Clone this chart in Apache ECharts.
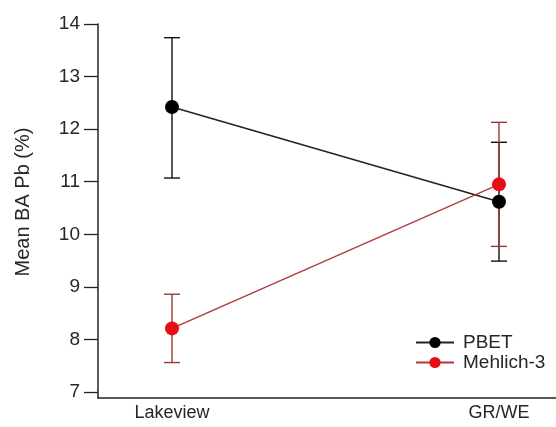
<!DOCTYPE html>
<html>
<head>
<meta charset="utf-8">
<script src="https://cdn.jsdelivr.net/npm/echarts@6/dist/echarts.min.js"></script>
<style>
  html, body { margin: 0; padding: 0; background: #fff; }
  #chart { width: 556px; height: 427px; }
</style>
</head>
<body>
<div id="chart"></div>
<script>
// sites along the x axis
const categories = ['Lakeview', 'GR/WE'];
const yTicks = [7, 8, 9, 10, 11, 12, 13, 14];

// means and error bar ends
const pbetMean = [12.42, 10.62];
const pbetLow = [11.07, 9.49];
const pbetHigh = [13.74, 11.75];

const mehlichMean = [8.21, 10.95];
const mehlichLow = [7.56, 9.77];
const mehlichHigh = [8.86, 12.13];

const font = 'Liberation Sans, Arial, sans-serif';
const textColor = '#262626';

const chart = echarts.init(document.getElementById('chart'));

// error bars: vertical line + caps
function errorBar(color) {
  return function (params, api) {
    const x = api.value(0);
    const lo = api.coord([x, api.value(1)]);
    const hi = api.coord([x, api.value(2)]);
    const half = 8;
    const style = { stroke: color, lineWidth: 1.4 };
    return {
      type: 'group',
      children: [
        { type: 'line', shape: { x1: lo[0], y1: lo[1], x2: hi[0], y2: hi[1] }, style: style },
        { type: 'line', shape: { x1: lo[0] - half, y1: lo[1], x2: lo[0] + half, y2: lo[1] }, style: style },
        { type: 'line', shape: { x1: hi[0] - half, y1: hi[1], x2: hi[0] + half, y2: hi[1] }, style: style }
      ]
    };
  };
}

const option = {
  animation: false,
  backgroundColor: '#fff',
  textStyle: { fontFamily: font },
  grid: { left: 98, right: 0, top: 24, bottom: 29 },
  legend: {
    left: 410,
    top: 328,
    orient: 'vertical',
    itemWidth: 38,
    itemHeight: 14,
    itemGap: 1,
    textStyle: { fontSize: 19, color: textColor, fontFamily: font, padding: [0, 0, 0, 4] },
    data: ['PBET', 'Mehlich-3']
  },
  xAxis: {
    type: 'value',
    min: -0.2263,
    max: 1.1743,
    axisLine: { onZero: false, lineStyle: { color: '#222', width: 1.5 } },
    axisTick: { show: false },
    splitLine: { show: false },
    axisLabel: {
      customValues: [0, 1],
      margin: 6,
      fontSize: 18,
      color: textColor,
      formatter: v => categories[Math.round(v)]
    }
  },
  yAxis: {
    type: 'value',
    min: 6.886,
    max: 14,
    name: 'Mean BA Pb (%)',
    nameLocation: 'middle',
    nameGap: 65,
    nameTextStyle: { fontSize: 20, color: textColor, fontFamily: font, padding: [0, 0, 0, 18] },
    axisLine: { show: true, onZero: false, lineStyle: { color: '#222', width: 1.5 } },
    axisTick: { show: true, customValues: yTicks, length: 14, lineStyle: { color: '#222', width: 1.3 } },
    splitLine: { show: false },
    axisLabel: { customValues: yTicks, margin: 18, fontSize: 19, color: textColor }
  },
  series: [
    {
      name: 'PBET',
      type: 'line',
      data: pbetMean.map((v, i) => [i, v]),
      symbol: 'circle',
      symbolSize: 14,
      lineStyle: { color: '#222', width: 1.5 },
      itemStyle: { color: '#000' },
      z: 3
    },
    {
      type: 'custom',
      renderItem: errorBar('#111'),
      data: pbetMean.map((v, i) => [i, pbetLow[i], pbetHigh[i]]),
      z: 2
    },
    {
      name: 'Mehlich-3',
      type: 'line',
      data: mehlichMean.map((v, i) => [i, v]),
      symbol: 'circle',
      symbolSize: 14,
      lineStyle: { color: '#b0393c', width: 1.3 },
      itemStyle: { color: '#ea0c14' },
      z: 4
    },
    {
      type: 'custom',
      renderItem: errorBar('#9a3a3a'),
      data: mehlichMean.map((v, i) => [i, mehlichLow[i], mehlichHigh[i]]),
      z: 2
    }
  ]
};

chart.setOption(option);
</script>
</body>
</html>
